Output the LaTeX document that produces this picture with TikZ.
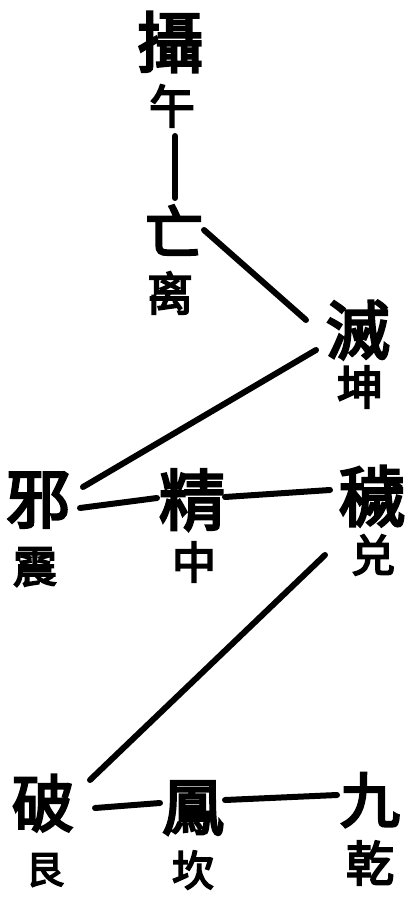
\documentclass[tikz,border=0pt]{standalone}
\usepackage{fontspec}
\newfontfamily\cjk[FakeBold=4]{Noto Sans CJK TC}
\usetikzlibrary{calc}

\begin{document}
\begin{tikzpicture}[
    x=1pt, y=-1pt,
    nosep/.style={inner sep=0},
    glyph/.style={nosep, font=\cjk\fontsize{#1}{#1}\selectfont},
    link/.style={line width=6pt, line cap=round}]
\useasboundingbox (0,0) rectangle (408,901);

% column of the upper part
\node[glyph=66] (she)   at (170, 42) {攝};
\node[glyph=46] (wu)    at (172,106) {午};
\node[glyph=58] (wang)  at (174,230) {亡};
\node[glyph=46] (li)    at (170,293) {离};
\node[glyph=64] (mie)   at (358,330) {滅};
\node[glyph=46] (kun)   at (360,387) {坤};

% middle row
\node[glyph=64] (xie)   at ( 38,500) {邪};
\node[glyph=44] (zhen)  at ( 35,567) {震};
\node[glyph=66] (jing)  at (192,500) {精};
\node[glyph=44] (zhong) at (194,562) {中};
\node[glyph=66] (hui)   at (372,496) {穢};
\node[glyph=44] (dui)   at (373,555) {兑};

% bottom row
\node[glyph=62] (po)    at ( 43,803) {破};
\node[glyph=38] (gen)   at ( 45,870) {艮};
\node[glyph=62] (feng)  at (193,808) {鳳};
\node[glyph=42] (kan)   at (193,870) {坎};
\node[glyph=60] (jiu)   at (370,800) {九};
\node[glyph=48] (qian)  at (370,863) {乾};

\draw[link] ([shift={(3,30)}]wu.center)    -- ([shift={(1,-32)}]wang.center);
\draw[link] ([shift={(30,0)}]wang.center)  -- ([shift={(-52,-10)}]mie.center);
\draw[link] ([shift={(-42,20)}]mie.center) -- ([shift={(45,-13)}]xie.center);
\draw[link] ([shift={(42,8)}]xie.center)   -- ([shift={(-35,-2)}]jing.center);
\draw[link] ([shift={(33,-3)}]jing.center) -- ([shift={(-42,-6)}]hui.center);
\draw[link] ([shift={(-47,59)}]hui.center) -- ([shift={(47,-23)}]po.center);
\draw[link] ([shift={(52,5)}]po.center)    -- ([shift={(-33,-5)}]feng.center);
\draw[link] ([shift={(32,-8)}]feng.center) -- ([shift={(-33,-5)}]jiu.center);

\end{tikzpicture}
\end{document}
